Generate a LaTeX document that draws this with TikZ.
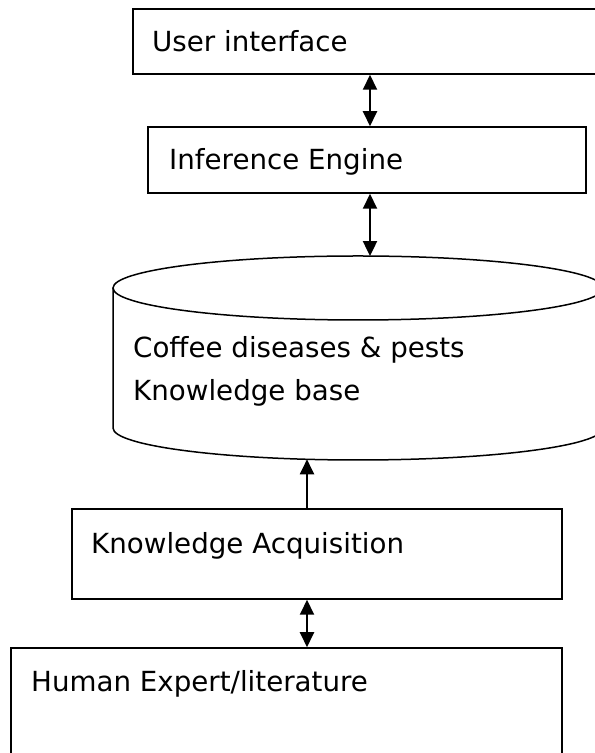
\documentclass[tikz,border=0pt]{standalone}
\usepackage{fontspec}
\setmainfont{DejaVu Sans}
\usetikzlibrary{arrows.meta}
\begin{document}
\begin{tikzpicture}[x=1bp,y=1bp,
  outline/.style={draw=black, line width=1.5bp},
  box/.style={outline, rectangle, inner sep=0pt},
  lbl/.style={inner sep=0pt, anchor=base west, font=\fontsize{27.7bp}{33bp}\selectfont},
  link/.style={draw=black, line width=2bp},
  tip/.tip={Triangle[length=15bp,width=14bp]},
  both/.style={link, tip-tip},
  upward/.style={link, -tip}]
\useasboundingbox (0,0) rectangle (595,753);
\fill[white] (0,0) rectangle (595,753);
\begin{scope}
\clip (0,0) rectangle (595,753);

% boxes
\node[box, minimum width=467bp, minimum height=65bp] (ui) at (366.5,711.5) {};
\node[box, minimum width=438bp, minimum height=66bp] (ie) at (367,593) {};
\node[box, minimum width=490bp, minimum height=90bp] (ka) at (317,199) {};
\node[box, minimum width=551bp, minimum height=112bp] (he) at (286.5,49) {};

% knowledge base cylinder
\draw[outline] (113,465) -- (113,325)
  arc[start angle=180, end angle=360, x radius=245, y radius=32] -- (603,465);
\draw[outline] (358,465) ellipse[x radius=245, y radius=32];
\coordinate (kbtop) at (370,496.9);
\coordinate (kbbot) at (307,293.7);

% labels
\node[lbl] (uit) at (152,701) {User interface};
\node[lbl] (iet) at (169,583) {Inference Engine};
\node[lbl] (kbt1) at (133,395) {Coffee diseases \& pests};
\node[lbl] (kbt2) at (133,352) {Knowledge base};
\node[lbl] (kat) at (91,199) {Knowledge Acquisition};
\node[lbl] (het) at (31,61) {Human Expert/literature};

% connectors
\coordinate (colA) at (370,0);
\coordinate (colB) at (307,0);
\draw[both] (colA |- ui.south) -- (colA |- ie.north);
\draw[both] (colA |- ie.south) -- (kbtop);
\draw[upward] (colB |- ka.north) -- (kbbot);
\draw[both] (colB |- ka.south) -- (colB |- he.north);
\end{scope}
\end{tikzpicture}
\end{document}
